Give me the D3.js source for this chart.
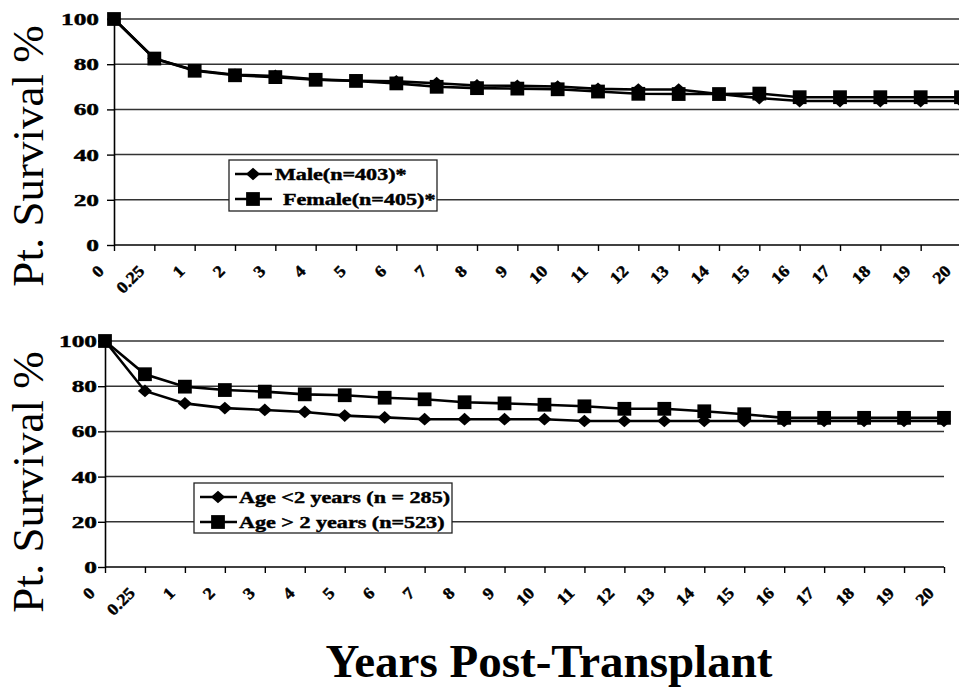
<!doctype html>
<html>
<head>
<meta charset="utf-8">
<script src="https://cdnjs.cloudflare.com/ajax/libs/d3/7.8.5/d3.min.js"></script>
<style>
    html, body { margin: 0; padding: 0; background: #fff; }
    svg { display: block; }
    .serif { font-family: "Liberation Serif", "Times New Roman", serif; }
</style>
</head>
<body>
<svg id="chart" width="959" height="687"></svg>
<script>
    // categories on the x axis (years post-transplant)
    var years = ["0", "0.25", "1", "2", "3", "4", "5", "6", "7", "8", "9", "10",
                 "11", "12", "13", "14", "15", "16", "17", "18", "19", "20"];
    var yTicks = [0, 20, 40, 60, 80, 100];

    // top panel: by gender
    var male   = [100, 82.5, 77.3, 75.3, 74.8, 73.3, 72.7, 72.4, 71.6, 70.6, 70.4, 70.1,
                  69.1, 68.8, 68.8, 66.8, 65.0, 63.7, 63.7, 63.7, 63.7, 63.7];
    var female = [100, 82.5, 77.1, 75.1, 74.3, 73.1, 72.6, 71.5, 70.0, 69.4, 69.2, 68.9,
                  67.9, 66.9, 66.8, 66.8, 67.0, 65.4, 65.4, 65.4, 65.4, 65.4];

    // bottom panel: by age at transplant
    var ageUnder2 = [100, 77.9, 72.4, 70.3, 69.5, 68.6, 67.0, 66.2, 65.4, 65.4, 65.4, 65.4,
                     64.6, 64.6, 64.6, 64.6, 64.6, 64.6, 64.6, 64.6, 64.6, 64.6];
    var ageOver2  = [100, 85.3, 79.8, 78.3, 77.6, 76.4, 76.0, 74.9, 74.2, 72.9, 72.4, 71.8,
                     71.1, 70.0, 70.0, 68.9, 67.6, 66.0, 66.0, 66.0, 66.0, 66.0];

    var svg = d3.select("#chart");

    // small bold labels are heavy and a bit wide in the original
    function label(g, x, y, str, o) {
        o = o || {};
        return g.append("text")
            .attr("class", "serif")
            .attr("transform", "translate(" + x + "," + y + ") rotate(" + (o.rotate || 0) + ") scale(" + (o.sx || 1) + ",1)")
            .attr("text-anchor", o.anchor || "start")
            .attr("font-size", o.size || 14)
            .attr("font-weight", o.weight || "bold")
            .attr("fill", "#000")
            .attr("stroke", "#000")
            .attr("stroke-width", 0.45)
            .text(str);
    }

    // slightly flat diamond, like the excel marker
    var flatDiamond = {
        draw: function(ctx, size) {
            var w = Math.sqrt(size) * 0.62, h = w * 0.9;
            ctx.moveTo(0, -h);
            ctx.lineTo(w, 0);
            ctx.lineTo(0, h);
            ctx.lineTo(-w, 0);
            ctx.closePath();
        }
    };
    var symbols = {
        diamond: d3.symbol().type(flatDiamond).size(130),
        square: d3.symbol().type(d3.symbolSquare).size(190)
    };

    function panel(cfg) {
        var g = svg.append("g");
        var x = d3.scalePoint().domain(years).range([cfg.left, cfg.right]);
        var y = d3.scaleLinear().domain([0, 100]).range([cfg.bottom, cfg.top]);

        // gridlines
        g.selectAll(".grid").data(yTicks.filter(function(d){ return d > 0; }))
            .enter().append("line")
            .attr("x1", cfg.left).attr("x2", cfg.gridEnd)
            .attr("y1", function(d){ return y(d); }).attr("y2", function(d){ return y(d); })
            .attr("stroke", "#333").attr("stroke-width", 1.5);

        // axes
        var xa = g.append("g").attr("transform", "translate(0," + cfg.bottom + ")")
            .call(d3.axisBottom(x).tickSize(6).tickSizeOuter(0).tickFormat(""));
        xa.select(".domain").attr("stroke", "#000").attr("stroke-width", 1.5)
            .attr("d", "M" + cfg.left + ",0H" + cfg.gridEnd);
        xa.selectAll(".tick line").attr("stroke", "#000").attr("stroke-width", 1.4);

        var ya = g.append("g").attr("transform", "translate(" + cfg.left + ",0)")
            .call(d3.axisLeft(y).tickValues(yTicks).tickSize(7).tickSizeOuter(0).tickFormat(""));
        ya.select(".domain").attr("stroke", "#000").attr("stroke-width", 1.6);
        ya.selectAll(".tick line").attr("stroke", "#000").attr("stroke-width", 1.4);

        // tick labels
        yTicks.forEach(function(v){
            label(g, cfg.yLabelX, y(v) + 6, String(v), {anchor: "end", size: 17.5, sx: 1.45});
        });
        years.forEach(function(c){
            label(g, x(c) - 9, cfg.bottom + 27, c, {anchor: "end", size: 16.5, sx: 1.1, rotate: -45});
        });

        // series
        var line = d3.line().x(function(d, i){ return x(years[i]); }).y(function(d){ return y(d); });
        cfg.series.forEach(function(s){
            g.append("path").datum(s.values)
                .attr("d", line).attr("fill", "none")
                .attr("stroke", "#000").attr("stroke-width", 2.6);
        });
        cfg.series.forEach(function(s){
            g.selectAll(null).data(s.values).enter().append("path")
                .attr("d", symbols[s.symbol]())
                .attr("fill", "#000")
                .attr("transform", function(d, i){ return "translate(" + x(years[i]) + "," + y(d) + ")"; });
        });

        // legend
        var L = cfg.legend;
        var lg = g.append("g");
        lg.append("rect")
            .attr("x", L.x).attr("y", L.y).attr("width", L.w).attr("height", L.h)
            .attr("fill", "#fff").attr("stroke", "#222").attr("stroke-width", 1.3);
        cfg.series.forEach(function(s, i){
            var cy = L.y + 14 + i * 25;
            lg.append("line")
                .attr("x1", L.x + 6).attr("x2", L.x + 43)
                .attr("y1", cy).attr("y2", cy)
                .attr("stroke", "#000").attr("stroke-width", 2.6);
            lg.append("path")
                .attr("d", symbols[s.symbol]())
                .attr("fill", "#000")
                .attr("transform", "translate(" + (L.x + 24) + "," + cy + ")");
            label(lg, L.x + s.textDx, cy + 6, s.name, {size: 17, sx: 1.3});
        });

        // y axis title
        g.append("text").attr("class", "serif")
            .attr("transform", "translate(" + cfg.titleX + "," + cfg.titleY + ") rotate(-90)")
            .attr("text-anchor", "middle")
            .attr("font-size", 45)
            .text("Pt. Survival %");
    }

    panel({
        left: 114, right: 961, top: 19, bottom: 245, gridEnd: 961,
        yLabelX: 99, titleX: 43, titleY: 156,
        legend: {x: 229, y: 160, w: 208, h: 51},
        series: [
            {name: "Male(n=403)*", values: male, symbol: "diamond", textDx: 46},
            {name: "Female(n=405)*", values: female, symbol: "square", textDx: 54}
        ]
    });

    panel({
        left: 105, right: 944, top: 341, bottom: 567, gridEnd: 944,
        yLabelX: 97, titleX: 43, titleY: 482,
        legend: {x: 194, y: 483, w: 258, h: 50},
        series: [
            {name: "Age <2 years (n = 285)", values: ageUnder2, symbol: "diamond", textDx: 45},
            {name: "Age > 2 years (n=523)", values: ageOver2, symbol: "square", textDx: 45}
        ]
    });

    svg.append("text").attr("class", "serif")
        .attr("x", 549).attr("y", 677)
        .attr("text-anchor", "middle")
        .attr("font-size", 47)
        .attr("font-weight", "bold")
        .text("Years Post-Transplant");
</script>
</body>
</html>
